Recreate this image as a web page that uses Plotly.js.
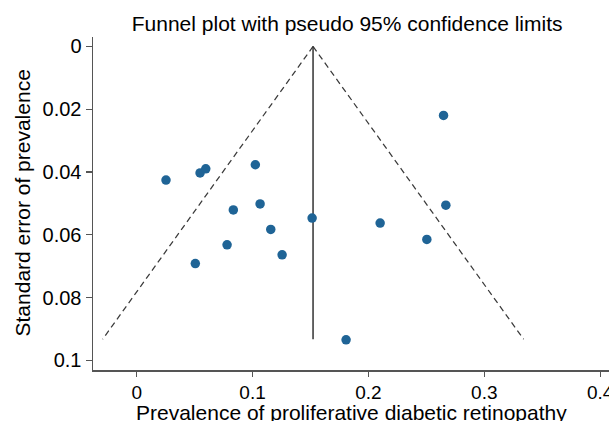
<!DOCTYPE html>
<html>
<head>
<meta charset="utf-8">
<script src="https://cdn.plot.ly/plotly-3.0.1.min.js"></script>
<style>html,body{margin:0;padding:0;background:#fff;}#chart{width:609px;height:421px;}</style>
</head>
<body>
<div id="chart"></div>
<script>
// Study estimates: prevalence and its standard error
const prevalence = [0.0253, 0.0547, 0.0596, 0.1024, 0.0834, 0.1065, 0.1514, 0.1157, 0.0780, 0.1255, 0.0506, 0.2648, 0.2668, 0.2101, 0.2504, 0.1807];
const stdError   = [0.0426, 0.0403, 0.0390, 0.0377, 0.0521, 0.0502, 0.0547, 0.0583, 0.0632, 0.0664, 0.0692, 0.0220, 0.0506, 0.0563, 0.0615, 0.0935];

// Pooled estimate and pseudo 95% limits
const limitSE    = [0, 0.0933];
const pooledLine = [0.1522, 0.1522];
const lowerLimit = [0.1522, -0.0294];
const upperLimit = [0.1522, 0.3339];

// Tick labels
const xTickVals = [0, 0.1, 0.2, 0.3, 0.4];
const xTickText = ["0", "0.1", "0.2", "0.3", "0.4"];
const yTickVals = [0, 0.02, 0.04, 0.06, 0.08, 0.1];
const yTickText = ["0", "0.02", "0.04", "0.06", "0.08", "0.1"];

const FONT = "Liberation Sans, Arial, Helvetica, sans-serif";
const dashStyle = {color: "#3a3a3a", width: 1.25, dash: "6px,4px"};

const traces = [
  {x: lowerLimit, y: limitSE, mode: "lines", line: dashStyle, hoverinfo: "skip"},
  {x: upperLimit, y: limitSE, mode: "lines", line: dashStyle, hoverinfo: "skip"},
  {x: pooledLine, y: limitSE, mode: "lines", line: {color: "#333333", width: 1.5}, hoverinfo: "skip"},
  {x: prevalence, y: stdError, mode: "markers",
   marker: {color: "#1f6496", size: 9.5, line: {width: 0}}}
];

const layout = {
  width: 609, height: 421,
  margin: {l: 93, r: 0, t: 37, b: 51, pad: 0},
  paper_bgcolor: "#ffffff", plot_bgcolor: "#ffffff",
  showlegend: false,
  font: {family: FONT, size: 20, color: "#000000"},
  title: {text: "Funnel plot with pseudo 95% confidence limits",
          font: {family: FONT, size: 21, color: "#000"},
          xref: "container", x: 0.57, xanchor: "center",
          yref: "container", y: 0.943, yanchor: "middle"},
  xaxis: {
    range: [-0.0377, 0.4076], showgrid: false, zeroline: false,
    showline: true, linecolor: "#555555", linewidth: 1.5, mirror: false,
    ticks: "outside", ticklen: 5, tickcolor: "#555555", tickwidth: 1.2,
    tickvals: xTickVals, ticktext: xTickText, ticklabeloverflow: "allow",
    tickfont: {family: FONT, size: 19, color: "#000"}
  },
  yaxis: {
    range: [0.1031, -0.003], showgrid: false, zeroline: false,
    showline: true, linecolor: "#555555", linewidth: 1.5, mirror: false,
    ticks: "outside", ticklen: 6, tickcolor: "#555555", tickwidth: 1.2,
    tickvals: yTickVals, ticktext: yTickText,
    tickfont: {family: FONT, size: 20, color: "#000"}
  },
  annotations: [
    {text: "Prevalence of proliferative diabetic retinopathy",
     xref: "paper", x: 0.5, xanchor: "center",
     yref: "paper", y: 0, yanchor: "middle", yshift: -42.5,
     showarrow: false, font: {family: FONT, size: 21, color: "#000"}},
    {text: "Standard error of prevalence", textangle: -90,
     xref: "paper", x: 0, xanchor: "center", xshift: -71,
     yref: "paper", y: 0.5, yanchor: "middle",
     showarrow: false, font: {family: FONT, size: 21, color: "#000"}}
  ]
};

Plotly.newPlot("chart", traces, layout, {displayModeBar: false, staticPlot: true});
</script>
</body>
</html>
